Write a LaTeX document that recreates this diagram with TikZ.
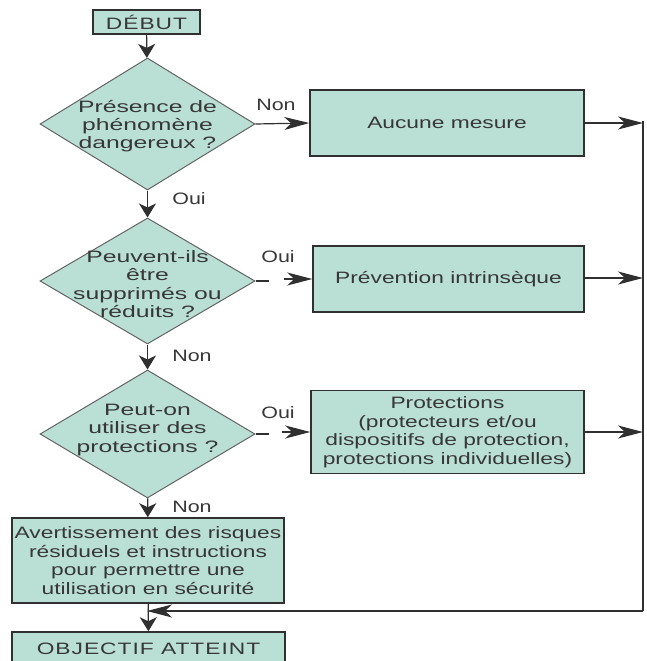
\documentclass[tikz,border=0pt]{standalone}
\usepackage{fontspec}
\setmainfont{Liberation Sans}
\newfontfamily\boxfont[FakeStretch=1.38]{Liberation Sans}
\newfontfamily\capsfont[FakeStretch=1.38, LetterSpace=6]{Liberation Sans}
\newfontfamily\decfont[FakeStretch=1.5]{Liberation Sans}
\newfontfamily\lblfont[FakeStretch=1.3]{Liberation Sans}
\usetikzlibrary{shapes.geometric, arrows.meta, calc}

\definecolor{boxfill}{RGB}{186,224,213}
\definecolor{boxline}{RGB}{48,48,48}
\definecolor{txt}{RGB}{55,55,55}

\tikzset{
  stepbox/.style={rectangle, draw=boxline, fill=boxfill, line width=1.5pt,
    inner sep=0pt, align=center, text=txt,
    font=\boxfont\fontsize{16.5}{18.5}\selectfont},
  decision/.style={diamond, draw=boxline!75, fill=boxfill, line width=1pt,
    inner sep=0pt},
  dectext/.style={align=center, text=txt, inner sep=0pt,
    font=\decfont\fontsize{16.5}{18.3}\selectfont},
  answer/.style={text=txt, inner sep=0pt,
    font=\lblfont\fontsize{16.5}{18}\selectfont},
  link/.style={draw=boxline, line width=1.2pt},
  downarrow/.style={link, -{Stealth[length=14pt, width=17pt, inset=4pt]}},
  sidearrow/.style={link, -{Stealth[length=25pt, width=13pt, inset=7pt]}},
}

\begin{document}
\begin{tikzpicture}[x=1pt, y=-1pt]
  \useasboundingbox (0,0) rectangle (647,661);

  % start / end boxes
  \node[stepbox, font=\capsfont\fontsize{16.5}{18.5}\selectfont,
        minimum width=107pt, minimum height=24pt] (start) at (146.5,22) {DÉBUT};

  % decisions
  \node[decision, minimum width=215pt, minimum height=132pt] (d1) at (147.5,124) {};
  \node[dectext] (t1) at (147.5,126) {Présence de\\phénomène\\dangereux ?};

  \node[decision, minimum width=215pt, minimum height=126pt] (d2) at (147.5,281) {};
  \node[dectext] (t2) at (147.5,284) {Peuvent-ils\\être\\supprimés ou\\réduits ?};

  \node[decision, minimum width=215pt, minimum height=128pt] (d3) at (147.5,434) {};
  \node[dectext] (t3) at (147.5,430) {Peut-on\\utiliser des\\protections ?};

  % actions
  \node[stepbox, minimum width=274pt, minimum height=66pt] (b1) at (447,123) {Aucune mesure};
  \node[stepbox, minimum width=271pt, minimum height=66pt] (b2) at (448.5,279) {Prévention intrinsèque};
  \node[stepbox, minimum width=273pt, minimum height=83pt] (b3) at (447.5,432)
    {Protections\\(protecteurs et/ou\\dispositifs de protection,\\protections individuelles)};
  \node[stepbox, minimum width=272pt, minimum height=85pt] (warn) at (148,560.5)
    {Avertissement des risques\\résiduels et instructions\\pour permettre une\\utilisation en sécurité};
  \node[stepbox, font=\capsfont\fontsize{16.5}{18.5}\selectfont,
        minimum width=273pt, minimum height=34pt] (goal) at (148.5,649) {OBJECTIF ATTEINT};

  % answers
  \node[answer] (n1) at (276,105) {Non};
  \node[answer] (o1) at (189,199) {Oui};
  \node[answer] (o2) at (278,257) {Oui};
  \node[answer] (n2) at (192,356) {Non};
  \node[answer] (o3) at (278,413) {Oui};
  \node[answer] (n3) at (192,507) {Non};

  % collecting line on the right
  \coordinate (top) at (643,121);
  \coordinate (j1) at (643,123);
  \coordinate (j2) at (643,278);
  \coordinate (j3) at (643,432);
  \coordinate (bend) at (643,611);
  \coordinate (back) at (147,611);

  % main vertical flow
  \draw[downarrow] (start) -- (d1);
  \draw[downarrow] (d1) -- (d2);
  \draw[downarrow] (d2) -- (d3);
  \draw[downarrow] (d3) -- (warn);
  \draw[downarrow] (warn) -- (goal);

  % branches to the right
  \draw[sidearrow] (d1.east) -- (b1.west);
  \draw[link] (d2.east) -- ++(13,0);
  \draw[sidearrow] ($(b2.west)+(-28,0)$) -- (b2.west);
  \draw[link] (d3.east) -- ++(13,0);
  \draw[sidearrow] ($(b3.west)+(-28,0)$) -- (b3.west);

  \draw[sidearrow] (b1.east |- j1) -- (j1);
  \draw[sidearrow] (b2.east |- j2) -- (j2);
  \draw[sidearrow] (b3.east |- j3) -- (j3);

  \draw[link, line width=1.8pt] (top) -- (bend);
  \draw[sidearrow] (bend) -- (back);
\end{tikzpicture}
\end{document}
